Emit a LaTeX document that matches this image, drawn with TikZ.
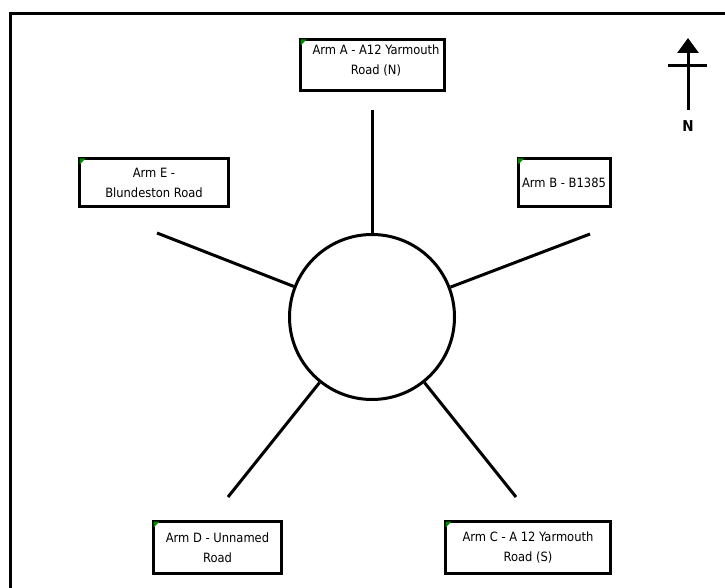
\documentclass[tikz,border=0pt]{standalone}
\usepackage{fontspec}
\setmainfont{DejaVu Sans Condensed}
\usetikzlibrary{arrows.meta}
\definecolor{cornergreen}{RGB}{0,140,0}
\tikzset{
  armbox/.style={draw, line width=3pt, fill=white, inner sep=0pt},
  armtext/.style={align=center, font=\fontsize{12.8}{20}\selectfont, inner sep=0pt},
}
\newcommand{\greencorner}[1]{%
  \fill[cornergreen] ([shift={(1.5pt,-1.5pt)}]#1.north west) -- ++(6pt,0) -- ++(-6pt,-6pt) -- cycle;}
\begin{document}
\begin{tikzpicture}[x=1pt,y=-1pt]
\useasboundingbox (0,0) rectangle (725,588);
% frame
\draw[line width=3pt] (10,590) -- (10,14) -- (727,14);
% roundabout
\node[draw, circle, line width=3pt, minimum size=165pt, inner sep=0pt] (rb) at (372,317) {};
% arm end points
\coordinate (ea) at (372,110);
\coordinate (eb) at (590,234);
\coordinate (ec) at (516,497);
\coordinate (ed) at (228,497);
\coordinate (ee) at (157,233);
\draw[line width=3pt] (ea) -- (rb);
\draw[line width=3pt] (eb) -- (rb);
\draw[line width=3pt] (ec) -- (rb);
\draw[line width=3pt] (ed) -- (rb);
\draw[line width=3pt] (ee) -- (rb);
% boxes
\node[armbox, minimum width=144pt, minimum height=51pt] (ba) at (372.5,65) {};
\node[armtext] (ta) at (376,60.5) {Arm A - A12 Yarmouth\\Road (N)};
\node[armbox, armtext, minimum width=92pt, minimum height=48pt] (bb) at (564,182.5) {Arm B - B1385};
\node[armbox, armtext, minimum width=149pt, minimum height=48pt] (be) at (154,182.5) {Arm E -\\Blundeston Road};
\node[armbox, armtext, minimum width=128pt, minimum height=52pt] (bd) at (217.5,547.5) {Arm D - Unnamed\\Road};
\node[armbox, armtext, minimum width=165pt, minimum height=52pt] (bc) at (528,547.5) {Arm C - A 12 Yarmouth\\Road (S)};
\greencorner{ba}
\greencorner{bb}
\greencorner{bc}
\greencorner{bd}
\greencorner{be}
% north arrow
\coordinate (nbot) at (688,110);
\coordinate (ntop) at (688,38);
\draw[line width=3pt, -{Triangle[length=15pt,width=21pt]}] (nbot) -- (ntop);
\coordinate (cl) at (668,66);
\coordinate (cr) at (707,66);
\draw[line width=3pt] (cl) -- (cr);
\node[font=\fontsize{15}{16}\selectfont\bfseries, inner sep=0pt] (nlab) at (688,126) {N};
\end{tikzpicture}
\end{document}
